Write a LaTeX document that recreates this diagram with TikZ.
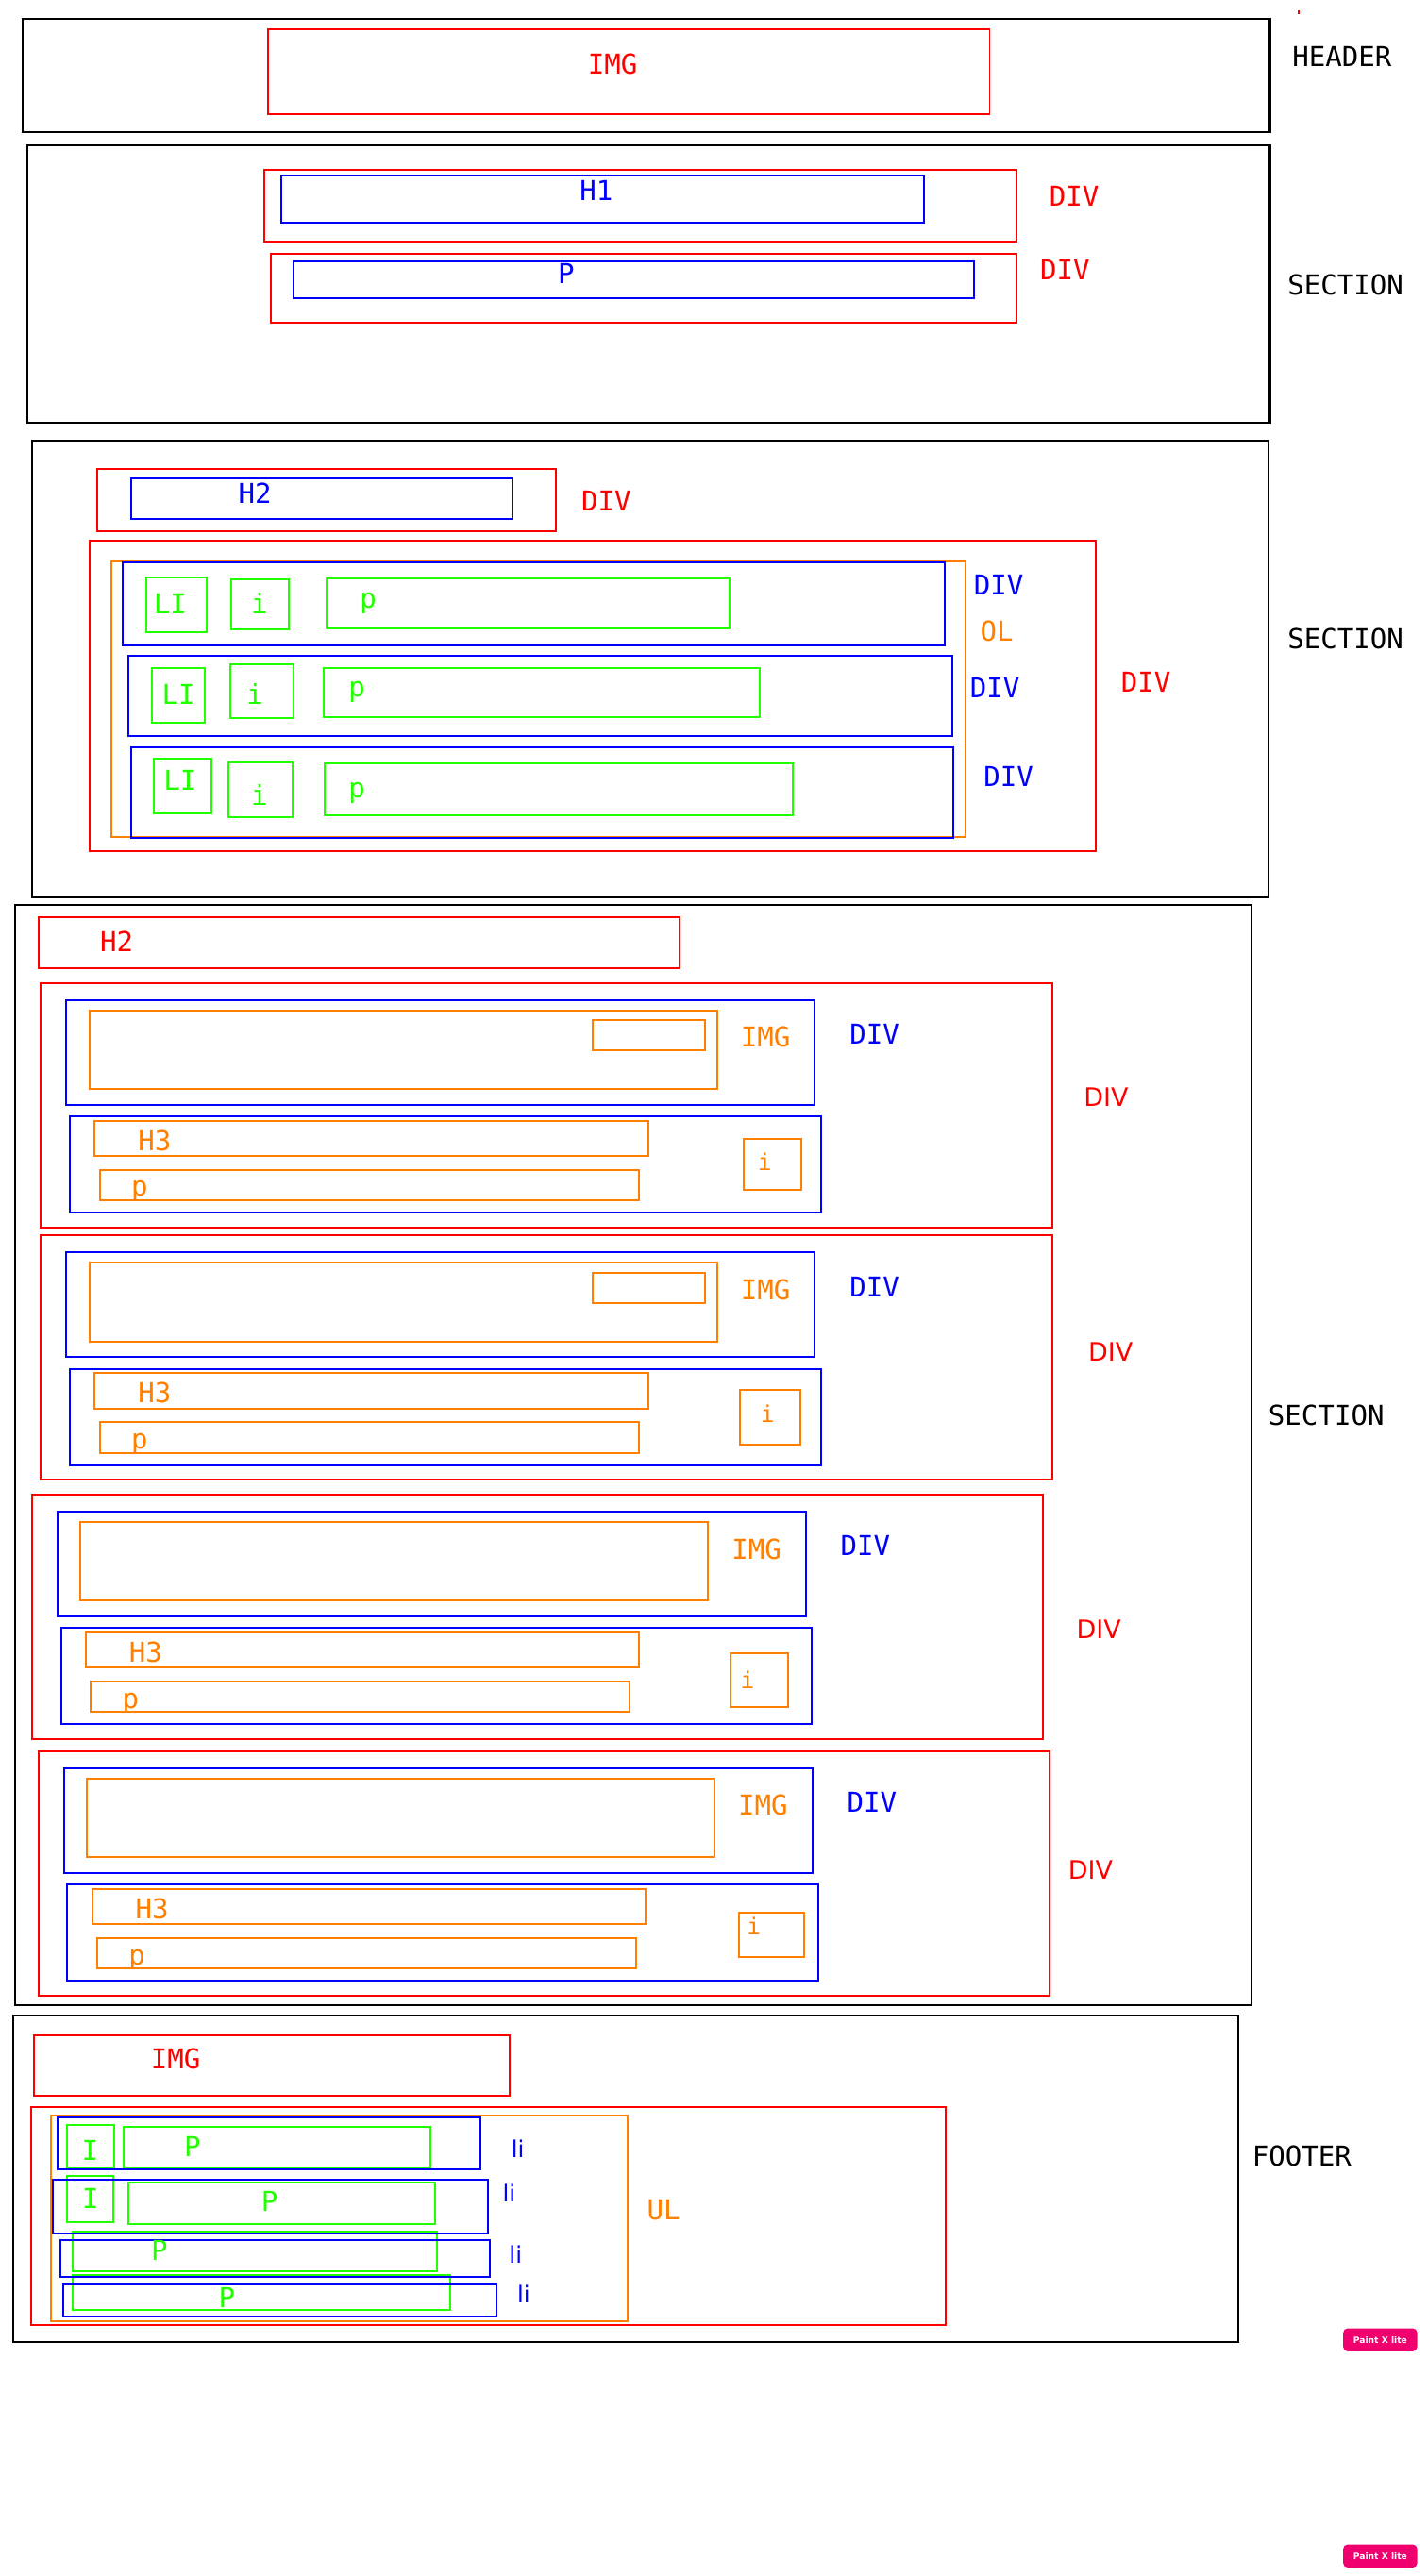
\documentclass[tikz,border=0pt]{standalone}
\usepackage{fontspec}
\setmainfont{DejaVu Sans Mono}
\newfontfamily\labsans{DejaVu Sans}

\definecolor{wred}{RGB}{255,0,0}
\definecolor{wblue}{RGB}{0,0,255}
\definecolor{wgreen}{RGB}{34,255,0}
\definecolor{worange}{RGB}{255,128,0}
\definecolor{wpink}{RGB}{240,0,110}

\tikzset{
  frame/.style={draw=black, line width=0.7pt},
  redbox/.style={draw=wred, line width=0.65pt},
  bluebox/.style={draw=wblue, line width=0.65pt},
  greenbox/.style={draw=wgreen, line width=0.65pt},
  orangebox/.style={draw=worange, line width=0.65pt},
  tag/.style={inner sep=0pt, font=\fontsize{9.5}{11}\selectfont},
  smalltag/.style={inner sep=0pt, font=\fontsize{8}{9}\selectfont},
  sanstag/.style={inner sep=0pt, font=\labsans\fontsize{8.8}{10}\selectfont},
  litag/.style={inner sep=0pt, text=wblue, font=\labsans\fontsize{8}{9}\selectfont},
  badge/.style={fill=wpink, text=white, rounded corners=1.5pt, inner sep=0pt,
    minimum width=0.9cm, minimum height=0.28cm,
    font=\labsans\bfseries\fontsize{3}{3.5}\selectfont}
}

\begin{document}
\begin{tikzpicture}[x=0.02cm, y=-0.02cm]
\useasboundingbox (0,0) rectangle (868,1567.2);

% header
\draw[frame] (13.8,11.5) rectangle (772.4,80.4);
\draw[redbox] (162.8,17.6) rectangle (601.9,69.5);
\node[tag, wred] (hdrimg) at (372.6,39.2) {IMG};
\node[tag] (header) at (816.2,34.1) {HEADER};
\draw[wred, line width=0.65pt] (790,6.1) -- (790,8.4);

% first section
\draw[frame] (16.6,88.4) rectangle (772.4,257);
\draw[redbox] (160.6,103.3) rectangle (618,147);
\draw[bluebox] (171.1,106.6) rectangle (562,135.5);
\node[tag, wblue] (hone) at (362.7,115.8) {H1};
\draw[redbox] (165,154.2) rectangle (618,196.3);
\draw[bluebox] (178.3,158.8) rectangle (592.5,181.4);
\node[tag, wblue] (pone) at (344.4,166.5) {P};
\node[tag, wred] (divone) at (653.4,119.6) {DIV};
\node[tag, wred] (divtwo) at (647.8,164) {DIV};
\node[tag] (secone) at (818.4,173.2) {SECTION};

% second section
\draw[frame] (19.4,267.9) rectangle (771.3,545.8);
\draw[redbox] (59,285.1) rectangle (338,323.2);
\draw[bluebox] (79.7,290.8) rectangle (312,315.7);
\node[tag, wblue] (htwo) at (155,299.9) {H2};
\node[tag, wred] (divh) at (368.8,304.8) {DIV};
\draw[redbox] (54.3,329.1) rectangle (666.7,517.6);
\draw[orangebox] (68,341.5) rectangle (587,509.1);
\draw[bluebox] (74.8,342.3) rectangle (574.8,392.6);
\draw[bluebox] (78,398.9) rectangle (579,447.7);
\draw[bluebox] (79.7,454.5) rectangle (580,509.9);
\draw[greenbox] (89,351.1) rectangle (126,384.8);
\draw[greenbox] (140.6,352.3) rectangle (175.5,382.9);
\draw[greenbox] (198.8,351.7) rectangle (443.5,382.5);
\draw[greenbox] (92.5,406.2) rectangle (124.6,439.7);
\draw[greenbox] (140,403.9) rectangle (178.3,436.8);
\draw[greenbox] (197,406.6) rectangle (462.3,436.3);
\draw[greenbox] (93.6,461.7) rectangle (128.5,494.8);
\draw[greenbox] (139,463.6) rectangle (177.7,497);
\draw[greenbox] (197.7,464.2) rectangle (482.3,496);
\node[tag, wgreen] (lia) at (103.5,367.4) {LI};
\node[tag, wgreen] (ia) at (157.8,366.8) {i};
\node[tag, wgreen] (pa) at (224,366.8) {p};
\node[tag, wgreen] (lib) at (108.5,422.3) {LI};
\node[tag, wgreen] (ib) at (155,422.3) {i};
\node[tag, wgreen] (pb) at (217,421) {p};
\node[tag, wgreen] (lic) at (109.6,474.6) {LI};
\node[tag, wgreen] (ic) at (157.8,483.8) {i};
\node[tag, wgreen] (pc) at (217,482.3) {p};
\node[tag, wblue] (diva) at (607.4,356.1) {DIV};
\node[tag, worange] (ol) at (606.3,384.2) {OL};
\node[tag, wblue] (divb) at (605.2,418.7) {DIV};
\node[tag, wblue] (divc) at (613.5,472.6) {DIV};
\node[tag, wred] (divol) at (697,415.2) {DIV};
\node[tag] (sectwo) at (818.4,388.8) {SECTION};

% third section with the cards
\draw[frame] (9.4,550.3) rectangle (761.3,1219.8);
\draw[redbox] (23.3,557.8) rectangle (413.6,588.9);
\node[tag, wred] (htwob) at (70.9,573) {H2};
\node[tag] (secthree) at (806.7,861.3) {SECTION};

\foreach \cx/\cy/\ix/\iy/\iw/\ih/\tx/\ty/\dx/\dy [count=\n] in
  {24.9/598/427.5/94.7/35/31/440.2/108.5/647.9/69.2,
   24.9/751.7/425.3/94/36.5/33.3/441.9/108.1/650.6/71,
   19.4/909.3/424.7/96.2/35/33.2/435.2/112.6/648.9/81.8,
   23.3/1065.4/426.3/98.2/39.3/26.8/435.2/106.2/640/72.2}
{
  \begin{scope}[shift={(\cx,\cy)}]
    \draw[redbox] (0,0) rectangle +(615,148.6);
    \draw[bluebox] (15.5,10.3) rectangle +(455.2,63.7);
    \draw[orangebox] (29.4,16.6) rectangle +(382,47.8);
    \node[tag, worange] (img\n) at (440.8,33) {IMG};
    \node[tag, wblue] (divimg\n) at (507,31) {DIV};
    \draw[bluebox] (17.7,81.1) rectangle +(456.8,58.5);
    \draw[orangebox] (32.7,83.8) rectangle +(336.8,21.3);
    \node[tag, worange] (hthree\n) at (69.2,95.8) {H3};
    \draw[orangebox] (35.7,113.6) rectangle +(327.8,18.6);
    \begin{scope}
      \clip (35.7,113.6) rectangle +(327.8,18);
      \node[tag, worange, anchor=base] (ptag\n) at (60,129.8) {p};
    \end{scope}
    \draw[orangebox] (\ix,\iy) rectangle +(\iw,\ih);
    \node[smalltag, worange] (itag\n) at (\tx,\ty) {i};
    \node[sanstag, wred] (divcard\n) at (\dx,\dy) {DIV};
  \end{scope}
}
\foreach \cy in {598,751.7}
  \draw[orangebox] (360.5,\cy+22.8) rectangle +(68.6,18.2);

% footer
\draw[frame] (7.8,1226.4) rectangle (753,1424.7);
\draw[redbox] (20.5,1238.2) rectangle (310,1275.1);
\node[tag, wred] (ftimg) at (106.9,1252.7) {IMG};
\draw[redbox] (18.8,1281.8) rectangle (575.3,1414.4);
\draw[orangebox] (31,1287) rectangle (382,1412);
\node[tag, worange] (ul) at (403.7,1344.3) {UL};
\draw[greenbox] (41,1293) rectangle (69.5,1319);
\draw[greenbox] (75,1294) rectangle (262,1319);
\draw[greenbox] (41,1324) rectangle (69,1352);
\draw[greenbox] (78,1328) rectangle (264.5,1353);
\draw[greenbox] (44,1357.5) rectangle (266,1382);
\draw[greenbox] (44,1384) rectangle (274,1405.5);
\draw[bluebox] (35,1288) rectangle (292,1320);
\draw[bluebox] (32,1326) rectangle (297,1359);
\draw[bluebox] (37,1363) rectangle (298,1385);
\draw[bluebox] (38.5,1390) rectangle (302,1409.5);
\node[tag, wgreen] (ione) at (54.7,1308) {I};
\node[tag, wgreen] (pfa) at (117,1306) {P};
\node[tag, wgreen] (itwo) at (55,1337.6) {I};
\node[tag, wgreen] (pfb) at (164,1339) {P};
\node[tag, wgreen] (pfc) at (97,1369) {P};
\node[tag, wgreen] (pfd) at (138,1398) {P};
\node[litag] (lia) at (315,1307) {li};
\node[litag] (lib) at (309.6,1334) {li};
\node[litag] (lic) at (313.6,1371.6) {li};
\node[litag] (lid) at (318.6,1395.6) {li};
\node[tag] (footer) at (791.8,1311.9) {FOOTER};

\node[badge] (pxa) at (839.5,1423.5) {Paint X lite};
\node[badge] (pxb) at (839.5,1555) {Paint X lite};
\end{tikzpicture}
\end{document}
